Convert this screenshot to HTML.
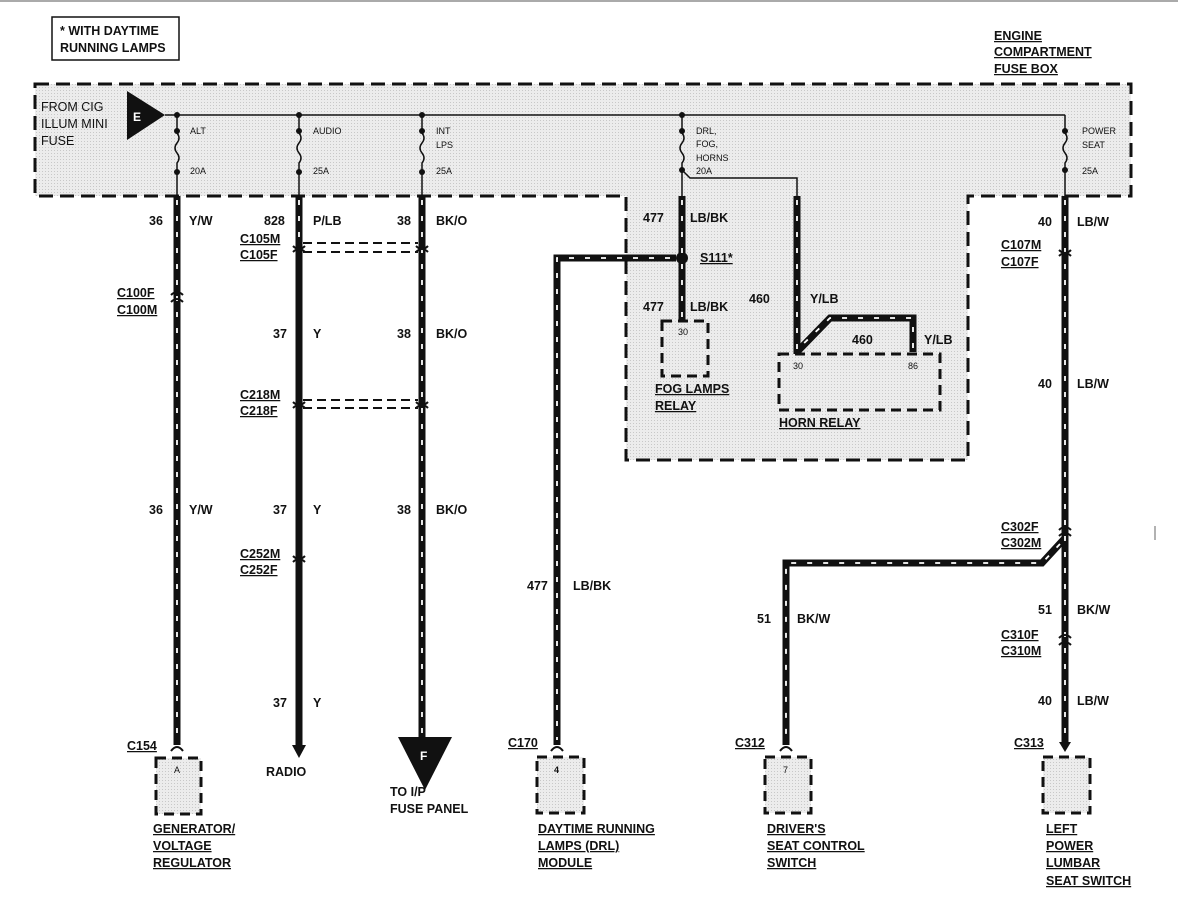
<!DOCTYPE html>
<html><head><meta charset="utf-8"><style>
html,body{margin:0;padding:0;background:#fff}
svg{display:block}
text{font-family:"Liberation Sans",Arial,sans-serif;fill:#111}
.b{font-weight:bold;font-size:12.5px}
.s{font-size:9px}
.u{text-decoration:underline}
</style></head><body>
<svg width="1178" height="908" viewBox="0 0 1178 908" xmlns="http://www.w3.org/2000/svg">
<defs>
<pattern id="st" width="3" height="3" patternUnits="userSpaceOnUse"><rect width="3" height="3" fill="#ececec"/><rect width="1" height="1" fill="#c8c8c8"/></pattern>
</defs>
<line x1="0" y1="1" x2="1178" y2="1" stroke="#aaa" stroke-width="2"/>
<rect x="52" y="17" width="127" height="43" fill="#fff" stroke="#111" stroke-width="1.5"/>
<text class="b" x="60" y="35">* WITH DAYTIME</text>
<text class="b" x="60" y="52">RUNNING LAMPS</text>
<text class="b u" x="994" y="40">ENGINE</text>
<text class="b u" x="994" y="56">COMPARTMENT</text>
<text class="b u" x="994" y="73">FUSE BOX</text>
<path d="M35,84 H1131 V196 H968 V460 H626 V196 H35 Z" fill="url(#st)" stroke="#111" stroke-width="3" stroke-dasharray="14 7"/>
<text x="41" y="111" style="font-size:12.5px">FROM CIG</text>
<text x="41" y="128" style="font-size:12.5px">ILLUM MINI</text>
<text x="41" y="145" style="font-size:12.5px">FUSE</text>
<polygon points="127,91 165,115 127,140" fill="#111"/>
<text x="133" y="121" style="font-size:12px;fill:#fff;font-weight:bold">E</text>
<line x1="165" y1="115" x2="1065" y2="115" stroke="#111" stroke-width="1.5"/>
<g stroke="#111" stroke-width="1.5" fill="none">
<path d="M177,115 V133 q4,5 0,10 q-4,5 0,10 q4,5 0,10 V196"/>
<path d="M299,115 V133 q4,5 0,10 q-4,5 0,10 q4,5 0,10 V196"/>
<path d="M422,115 V133 q4,5 0,10 q-4,5 0,10 q4,5 0,10 V196"/>
<path d="M682,115 V133 q4,5 0,10 q-4,5 0,10 q4,5 0,10 V196"/>
<path d="M1065,115 V133 q4,5 0,10 q-4,5 0,10 q4,5 0,10 V196"/>
<path d="M682,170 L690,178 H797 V196"/>
</g>
<g fill="#111">
<circle cx="177" cy="115" r="3"/><circle cx="299" cy="115" r="3"/><circle cx="422" cy="115" r="3"/><circle cx="682" cy="115" r="3"/>
<circle cx="177" cy="131" r="3"/><circle cx="299" cy="131" r="3"/><circle cx="422" cy="131" r="3"/><circle cx="682" cy="131" r="3"/><circle cx="1065" cy="131" r="3"/>
<circle cx="177" cy="172" r="3"/><circle cx="299" cy="172" r="3"/><circle cx="422" cy="172" r="3"/><circle cx="682" cy="170" r="3"/><circle cx="1065" cy="170" r="3"/>
<circle cx="682" cy="258" r="6"/>
</g>
<g class="s">
<text class="s" x="190" y="134">ALT</text><text class="s" x="190" y="174">20A</text>
<text class="s" x="313" y="134">AUDIO</text><text class="s" x="313" y="174">25A</text>
<text class="s" x="436" y="134">INT</text><text class="s" x="436" y="148">LPS</text><text class="s" x="436" y="174">25A</text>
<text class="s" x="696" y="134">DRL,</text><text class="s" x="696" y="147">FOG,</text><text class="s" x="696" y="161">HORNS</text><text class="s" x="696" y="174">20A</text>
<text class="s" x="1082" y="134">POWER</text><text class="s" x="1082" y="148">SEAT</text><text class="s" x="1082" y="174">25A</text>
</g>
<g fill="none" stroke="#111" stroke-width="7" stroke-linejoin="miter">
<path d="M177,196 V745"/>
<path d="M299,196 V745"/>
<path d="M422,196 V740"/>
<path d="M682,196 V320"/>
<path d="M797,196 V352 L830,318 H913 V352"/>
<path d="M676,258 H557 V745"/>
<path d="M1065,196 V745"/>
<path d="M1065,538 L1042,563 H786 V745"/>
</g>
<g fill="none" stroke="#fff" stroke-width="1.8" stroke-dasharray="5 11">
<path d="M177,200 V740"/>
<path d="M299,200 V250"/>
<path d="M422,200 V735"/>
<path d="M682,200 V318"/>
<path d="M797,200 V350 L830,318 H913 V350"/>
<path d="M670,258 H557 V740"/>
<path d="M1065,200 V740"/>
<path d="M1060,544 L1042,563 H786 V740"/>
</g>
<g stroke="#111" stroke-width="2" stroke-dasharray="9 5">
<line x1="303" y1="243" x2="418" y2="243"/><line x1="303" y1="252" x2="418" y2="252"/>
<line x1="303" y1="400" x2="418" y2="400"/><line x1="303" y1="408" x2="418" y2="408"/>
</g>
<g fill="none" stroke="#111" stroke-width="2">
<path d="M171,295 q6,-6 12,0 M171,302 q6,-6 12,0"/>
<path d="M293,246 q6,6 12,0 M293,252 q6,-6 12,0"/>
<path d="M416,246 q6,6 12,0 M416,252 q6,-6 12,0"/>
<path d="M293,402 q6,6 12,0 M293,408 q6,-6 12,0"/>
<path d="M416,402 q6,6 12,0 M416,408 q6,-6 12,0"/>
<path d="M293,556 q6,6 12,0 M293,562 q6,-6 12,0"/>
<path d="M1059,250 q6,6 12,0 M1059,256 q6,-6 12,0"/>
<path d="M1059,530 q6,-6 12,0 M1059,536 q6,-6 12,0"/>
<path d="M1059,638 q6,-6 12,0 M1059,645 q6,-6 12,0"/>
<path d="M171,751 q6,-8 12,0 M551,751 q6,-8 12,0 M780,751 q6,-8 12,0"/>
</g>
<polygon points="292,745 306,745 299,758" fill="#111"/>
<polygon points="1059,742 1071,742 1065,752" fill="#111"/>
<polygon points="398,737 452,737 425,790" fill="#111"/>
<text x="420" y="760" style="font-size:12px;fill:#fff;font-weight:bold">F</text>
<g fill="url(#st)" stroke="#111" stroke-width="3" stroke-dasharray="10 6">
<rect x="662" y="321" width="46" height="55"/>
<rect x="779" y="354" width="161" height="56"/>
<rect x="156" y="758" width="45" height="56"/>
<rect x="537" y="757" width="47" height="56"/>
<rect x="765" y="757" width="46" height="56"/>
<rect x="1043" y="757" width="47" height="56"/>
</g>
<g class="s">
<text class="s" x="678" y="335">30</text><text class="s" x="793" y="369">30</text><text class="s" x="908" y="369">86</text>
<text class="s" x="174" y="773">A</text><text class="s" x="554" y="773" style="font-weight:bold">4</text><text class="s" x="783" y="773">7</text>
</g>
<g class="b">
<text class="b" x="149" y="225">36</text><text class="b" x="189" y="225">Y/W</text>
<text class="b" x="264" y="225">828</text><text class="b" x="313" y="225">P/LB</text>
<text class="b" x="397" y="225">38</text><text class="b" x="436" y="225">BK/O</text>
<text class="b u" x="240" y="243">C105M</text><text class="b u" x="240" y="259">C105F</text>
<text class="b u" x="117" y="297">C100F</text><text class="b u" x="117" y="314">C100M</text>
<text class="b" x="273" y="338">37</text><text class="b" x="313" y="338">Y</text>
<text class="b" x="397" y="338">38</text><text class="b" x="436" y="338">BK/O</text>
<text class="b u" x="240" y="399">C218M</text><text class="b u" x="240" y="415">C218F</text>
<text class="b" x="149" y="514">36</text><text class="b" x="189" y="514">Y/W</text>
<text class="b" x="273" y="514">37</text><text class="b" x="313" y="514">Y</text>
<text class="b" x="397" y="514">38</text><text class="b" x="436" y="514">BK/O</text>
<text class="b u" x="240" y="558">C252M</text><text class="b u" x="240" y="574">C252F</text>
<text class="b" x="273" y="707">37</text><text class="b" x="313" y="707">Y</text>
<text class="b u" x="127" y="750">C154</text>
<text class="b" x="266" y="776">RADIO</text>
<text class="b" x="390" y="796">TO I/P</text><text class="b" x="390" y="813">FUSE PANEL</text>
<text class="b u" x="153" y="833">GENERATOR/</text><text class="b u" x="153" y="850">VOLTAGE</text><text class="b u" x="153" y="867">REGULATOR</text>
<text class="b" x="527" y="590">477</text><text class="b" x="573" y="590">LB/BK</text>
<text class="b u" x="508" y="747">C170</text>
<text class="b u" x="538" y="833">DAYTIME RUNNING</text><text class="b u" x="538" y="850">LAMPS (DRL)</text><text class="b u" x="538" y="867">MODULE</text>
<text class="b" x="643" y="222">477</text><text class="b" x="690" y="222">LB/BK</text>
<text class="b u" x="700" y="262">S111*</text>
<text class="b" x="643" y="311">477</text><text class="b" x="690" y="311">LB/BK</text>
<text class="b u" x="655" y="393">FOG LAMPS</text><text class="b u" x="655" y="410">RELAY</text>
<text class="b" x="749" y="303">460</text><text class="b" x="810" y="303">Y/LB</text>
<text class="b" x="852" y="344">460</text><text class="b" x="924" y="344">Y/LB</text>
<text class="b u" x="779" y="427">HORN RELAY</text>
<text class="b" x="1038" y="226">40</text><text class="b" x="1077" y="226">LB/W</text>
<text class="b u" x="1001" y="249">C107M</text><text class="b u" x="1001" y="266">C107F</text>
<text class="b" x="1038" y="388">40</text><text class="b" x="1077" y="388">LB/W</text>
<text class="b u" x="1001" y="531">C302F</text><text class="b u" x="1001" y="547">C302M</text>
<text class="b" x="1038" y="614">51</text><text class="b" x="1077" y="614">BK/W</text>
<text class="b u" x="1001" y="639">C310F</text><text class="b u" x="1001" y="655">C310M</text>
<text class="b" x="1038" y="705">40</text><text class="b" x="1077" y="705">LB/W</text>
<text class="b u" x="1014" y="747">C313</text>
<text class="b" x="757" y="623">51</text><text class="b" x="797" y="623">BK/W</text>
<text class="b u" x="735" y="747">C312</text>
<text class="b u" x="767" y="833">DRIVER'S</text><text class="b u" x="767" y="850">SEAT CONTROL</text><text class="b u" x="767" y="867">SWITCH</text>
<text class="b u" x="1046" y="833">LEFT</text><text class="b u" x="1046" y="850">POWER</text><text class="b u" x="1046" y="867">LUMBAR</text><text class="b u" x="1046" y="885">SEAT SWITCH</text>
</g>
<line x1="1155" y1="526" x2="1155" y2="540" stroke="#999" stroke-width="1.5"/>
</svg>
</body></html>
